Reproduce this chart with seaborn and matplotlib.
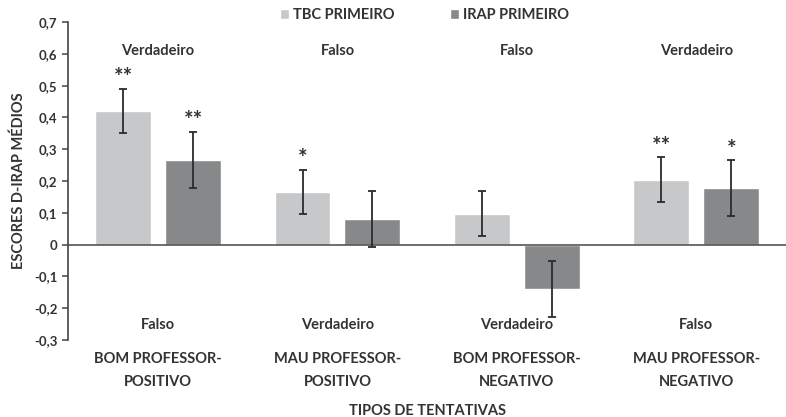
import matplotlib
matplotlib.use("Agg")
import matplotlib.pyplot as plt
import seaborn as sns
import pandas as pd

# Trial types and conditions
categories = ["BOM PROFESSOR-\nPOSITIVO", "MAU PROFESSOR-\nPOSITIVO",
              "BOM PROFESSOR-\nNEGATIVO", "MAU PROFESSOR-\nNEGATIVO"]
series = ["TBC PRIMEIRO", "IRAP PRIMEIRO"]
tbc_means = [0.42, 0.165, 0.097, 0.204]
irap_means = [0.267, 0.079, -0.141, 0.177]
tbc_err = [0.070, 0.070, 0.070, 0.070]
irap_err = [0.088, 0.088, 0.088, 0.088]
tbc_stars = ["**", "*", "", "**"]
irap_stars = ["**", "", "", "*"]
top_labels = ["Verdadeiro", "Falso", "Falso", "Verdadeiro"]
bottom_labels = ["Falso", "Verdadeiro", "Verdadeiro", "Falso"]
y_ticks = [-0.3, -0.2, -0.1, 0, 0.1, 0.2, 0.3, 0.4, 0.5, 0.6, 0.7]

df = pd.DataFrame({
    "tipo": categories * 2,
    "grupo": [series[0]] * 4 + [series[1]] * 4,
    "media": tbc_means + irap_means,
    "erro": tbc_err + irap_err,
    "sig": tbc_stars + irap_stars,
})

sns.set_theme(style="white")
plt.rcParams["font.family"] = ["Lato", "DejaVu Sans"]
text_color = "#333333"
palette = {series[0]: "#c7c8c9", series[1]: "#87888a"}

fig = plt.figure(figsize=(7.86, 4.17), dpi=100)
ax = fig.add_axes([0.087, 0.185, 0.913, 0.762])

sns.barplot(data=df, x="tipo", y="media", hue="grupo", order=categories,
            hue_order=series, palette=palette, width=0.78, gap=0.2,
            errorbar=None, saturation=1, ax=ax, legend=True)

# Error bars and significance markers placed on each bar's centre
for container, grp in zip(ax.containers, series):
    sub = df[df["grupo"] == grp].set_index("tipo").loc[categories]
    for patch, (_, row) in zip(container.patches, sub.iterrows()):
        xc = patch.get_x() + patch.get_width() / 2
        ax.errorbar(xc, row["media"], yerr=row["erro"], fmt="none",
                    ecolor="#2b2b2b", elinewidth=1.3, capsize=3,
                    capthick=1.3, zorder=3)
        if row["sig"]:
            ax.annotate(row["sig"], (xc, row["media"] + row["erro"]),
                        xytext=(0, 8), textcoords="offset points",
                        ha="center", va="center", fontsize=16,
                        fontweight="bold", color=text_color)

for i, (t, b) in enumerate(zip(top_labels, bottom_labels)):
    ax.text(i, 0.61, t, ha="center", va="center", fontsize=10.5,
            fontweight="bold", color=text_color)
    ax.text(i, -0.253, b, ha="center", va="center", fontsize=10.5,
            fontweight="bold", color=text_color)

ax.axhline(0, color="#555555", lw=1.2, zorder=2)
ax.set_xlim(-0.5, 3.5)
ax.set_ylim(-0.3, 0.7)
ax.set_yticks(y_ticks)
ax.set_yticklabels([("%g" % v).replace(".", ",") for v in y_ticks],
                   fontsize=9.5, fontweight="bold", color=text_color)
ax.tick_params(axis="y", direction="out", length=4, width=1.1,
               color="#444444", pad=4, left=True)
ax.tick_params(axis="x", length=0, pad=9)
for lbl in ax.get_xticklabels():
    lbl.set_fontsize(10.5)
    lbl.set_fontweight("bold")
    lbl.set_color(text_color)
    lbl.set_linespacing(1.75)

for side in ["top", "right", "bottom"]:
    ax.spines[side].set_visible(False)
ax.spines["left"].set_color("#444444")
ax.spines["left"].set_linewidth(1.2)

ax.set_xlabel("TIPOS DE TENTATIVAS", fontsize=10.5, fontweight="bold",
              color=text_color, labelpad=11)
ax.set_ylabel("ESCORES D-IRAP MÉDIOS", fontsize=10.5, fontweight="bold",
              color=text_color, labelpad=6)

leg = ax.legend(loc="upper center", bbox_to_anchor=(0.496, 1.085), ncol=2,
                frameon=False, handlelength=0.65, handleheight=0.65,
                handletextpad=0.25, columnspacing=3.8,
                prop={"size": 10.5, "weight": "bold"})
for t in leg.get_texts():
    t.set_color(text_color)

fig.savefig("out.png", dpi=100)
